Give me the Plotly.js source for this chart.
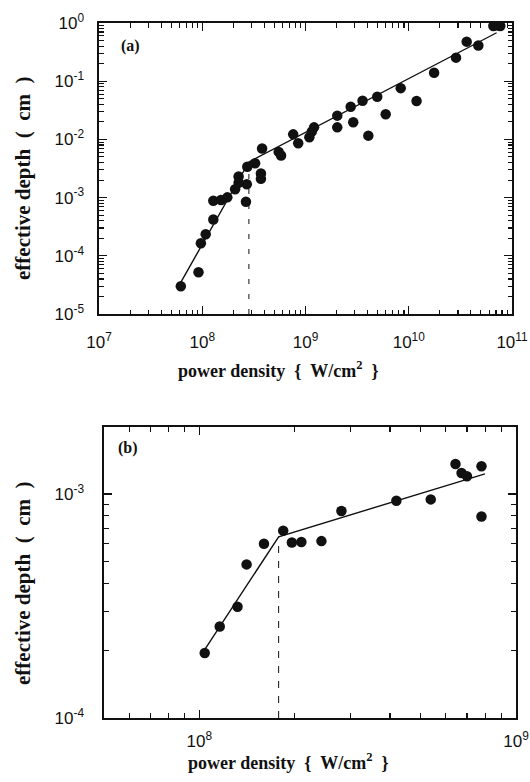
<!DOCTYPE html>
<html>
<head>
<meta charset="utf-8">
<script src="https://cdn.plot.ly/plotly-3.0.1.min.js"></script>
<style>html,body{margin:0;padding:0;background:#fff;}#chart{width:530px;height:782px;}</style>
</head>
<body>
<div id="chart"></div>
<script>
// ---- Panel (a) data ----
const aPower = [6.2e7, 9.2e7, 9.7e7, 1.08e8, 1.28e8, 1.28e8, 1.52e8, 1.75e8, 2.08e8, 2.25e8, 2.25e8, 2.7e8,
  2.65e8, 2.73e8, 3.25e8, 3.7e8, 3.7e8, 3.8e8, 5.5e8, 5.8e8, 7.6e8, 8.5e8, 1.09e9, 1.15e9, 1.21e9,
  2.03e9, 2.03e9, 2.74e9, 2.9e9, 3.57e9, 4.06e9, 4.95e9, 5.98e9, 8.36e9, 1.19e10, 1.76e10, 2.87e10,
  3.64e10, 4.72e10, 6.6e10, 7.2e10, 7.7e10];
const aDepth = [3.0e-5, 5.2e-5, 1.64e-4, 2.34e-4, 4.2e-4, 8.8e-4, 9.1e-4, 1.01e-3, 1.39e-3, 2.3e-3, 1.8e-3, 1.7e-3,
  8.5e-4, 3.4e-3, 3.9e-3, 2.6e-3, 2.1e-3, 7.0e-3, 6.1e-3, 5.3e-3, 1.22e-2, 8.6e-3, 1.09e-2, 1.36e-2, 1.61e-2,
  2.56e-2, 1.61e-2, 3.65e-2, 1.97e-2, 4.6e-2, 1.16e-2, 5.4e-2, 2.7e-2, 7.6e-2, 4.57e-2, 0.14, 0.254,
  0.478, 0.41, 0.89, 0.91, 0.89];
const aFitPower = [6.2e7, 2.83e8, 7.1e10];
const aFitDepth = [3.5e-5, 4.1e-3, 0.68];
const aBreakPower = [2.83e8, 2.83e8];
const aBreakDepth = [1e-5, 4.1e-3];

// ---- Panel (b) data ----
const bPower = [1.04e8, 1.16e8, 1.32e8, 1.41e8, 1.6e8, 1.84e8, 1.96e8, 2.1e8, 2.43e8, 2.81e8, 4.19e8, 5.38e8,
  6.44e8, 6.73e8, 7.0e8, 7.78e8, 7.78e8];
const bDepth = [1.95e-4, 2.56e-4, 3.14e-4, 4.85e-4, 6.0e-4, 6.86e-4, 6.07e-4, 6.1e-4, 6.16e-4, 8.39e-4, 9.33e-4, 9.46e-4,
  1.36e-3, 1.24e-3, 1.20e-3, 1.33e-3, 7.93e-4];
const bFitPower = [1.04e8, 1.78e8, 7.98e8];
const bFitDepth = [2.02e-4, 6.44e-4, 1.23e-3];
const bBreakPower = [1.78e8, 1.78e8];
const bBreakDepth = [1e-4, 6.44e-4];

// ---- Tick labels ----
const aXTickVals = [1e7, 1e8, 1e9, 1e10, 1e11];
const aXTickText = ['10<sup>7</sup>', '10<sup>8</sup>', '10<sup>9</sup>', '10<sup>10</sup>', '10<sup>11</sup>'];
const aYTickVals = [1e-5, 1e-4, 1e-3, 1e-2, 1e-1, 1];
const aYTickText = ['10<sup>-5</sup>', '10<sup>-4</sup>', '10<sup>-3</sup>', '10<sup>-2</sup>', '10<sup>-1</sup>', '10<sup>0</sup>'];
const bXTickVals = [1e8, 1e9];
const bXTickText = ['10<sup>8</sup>', '10<sup>9</sup>'];
const bYTickVals = [1e-4, 1e-3];
const bYTickText = ['10<sup>-4</sup>', '10<sup>-3</sup>'];

function minorVals(lo, hi) {
  const out = [];
  for (let e = lo; e < hi; e++) for (let m = 2; m <= 9; m++) out.push(m * Math.pow(10, e));
  return out;
}

const tickFont = {family: 'Liberation Sans, Arial, sans-serif', size: 17, color: '#111'};
const serif = 'Liberation Serif, Times New Roman, serif';

function axisBase(extra, minorList, minorLen) {
  return Object.assign({
    type: 'log', showgrid: false, zeroline: false, showline: true, linecolor: '#111', linewidth: 1.6,
    mirror: 'allticks', ticks: 'inside', ticklen: 8, tickwidth: 1.3, tickcolor: '#111',
    tickmode: 'array', tickfont: tickFont,
    minor: {tickmode: 'array', tickvals: minorList, ticks: 'inside', ticklen: minorLen, tickwidth: 1.1, tickcolor: '#111', showgrid: false}
  }, extra);
}

const mk = {color: '#111', size: 10.5};
const traces = [
  {x: aPower, y: aDepth, xaxis: 'x', yaxis: 'y', mode: 'markers', type: 'scatter', marker: mk, showlegend: false},
  {x: aFitPower, y: aFitDepth, xaxis: 'x', yaxis: 'y', mode: 'lines', type: 'scatter', line: {color: '#111', width: 1.4}, showlegend: false},
  {x: aBreakPower, y: aBreakDepth, xaxis: 'x', yaxis: 'y', mode: 'lines', type: 'scatter', line: {color: '#111', width: 1, dash: '5px,10px'}, showlegend: false},
  {x: bPower, y: bDepth, xaxis: 'x2', yaxis: 'y2', mode: 'markers', type: 'scatter', marker: mk, showlegend: false},
  {x: bFitPower, y: bFitDepth, xaxis: 'x2', yaxis: 'y2', mode: 'lines', type: 'scatter', line: {color: '#111', width: 1.4}, showlegend: false},
  {x: bBreakPower, y: bBreakDepth, xaxis: 'x2', yaxis: 'y2', mode: 'lines', type: 'scatter', line: {color: '#111', width: 1, dash: '7px,8px'}, showlegend: false}
];

const W = 530, H = 782;
const nb = '\u00a0';
const xTitle = 'power density' + nb + nb + '{' + nb + nb + 'W/cm<sup>2</sup>' + nb + nb + '}';
const yTitle = 'effective depth' + nb + nb + '(' + nb + nb + 'cm' + nb + nb + ')';

function ann(text, px, py, size, angle) {
  return {text: '<b>' + text + '</b>', xref: 'paper', yref: 'paper', x: px / W, y: 1 - py / H,
    xanchor: 'center', yanchor: 'middle', showarrow: false, textangle: angle || 0,
    font: {family: serif, size: size, color: '#111'}};
}

const layout = {
  width: W, height: H, margin: {l: 0, r: 0, t: 0, b: 0}, paper_bgcolor: '#fff', plot_bgcolor: '#fff',
  showlegend: false,
  xaxis: axisBase({domain: [99 / W, 512 / W], range: [7, 11], anchor: 'y', tickvals: aXTickVals, ticktext: aXTickText, ticklabelstandoff: 12},
    minorVals(7, 11), 4.5),
  yaxis: axisBase({domain: [1 - 314 / H, 1 - 23 / H], range: [-5, 0], anchor: 'x', tickvals: aYTickVals, ticktext: aYTickText, ticklabelstandoff: 10},
    minorVals(-5, 0), 4.5),
  xaxis2: axisBase({domain: [104 / W, 516 / W], range: [Math.log10(5e7), 9], anchor: 'y2', tickvals: bXTickVals, ticktext: bXTickText, ticklabelstandoff: 7},
    minorVals(7, 9), 5),
  yaxis2: axisBase({domain: [1 - 718 / H, 1 - 427 / H], range: [-4, -2.701], anchor: 'x2', tickvals: bYTickVals, ticktext: bYTickText, ticklabelstandoff: 15},
    minorVals(-4, -2), 5),
  annotations: [
    ann('(a)', 130, 46, 16),
    ann('(b)', 128, 448, 16),
    ann(xTitle, 278, 369, 18),
    ann(xTitle, 288, 761, 18),
    ann(yTitle, 23, 178, 21, -90),
    ann(yTitle, 23, 583, 21, -90)
  ]
};

Plotly.newPlot('chart', traces, layout, {staticPlot: true, displayModeBar: false});
</script>
</body>
</html>
